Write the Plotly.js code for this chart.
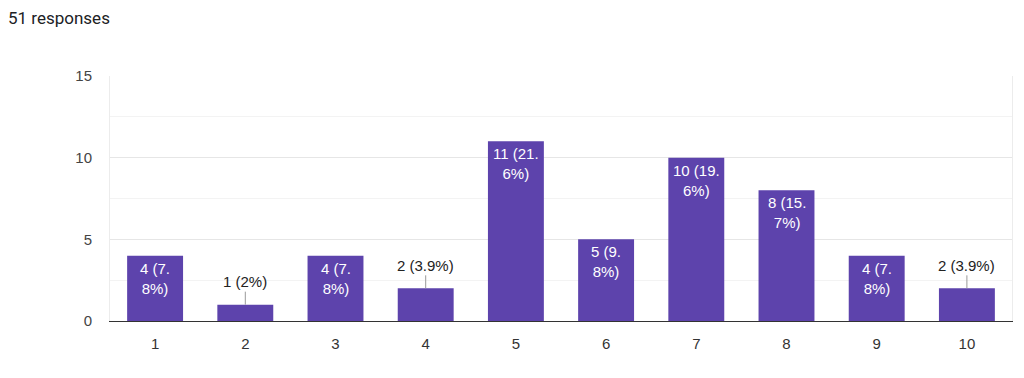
<!DOCTYPE html>
<html>
<head>
<meta charset="utf-8">
<script src="https://cdn.plot.ly/plotly-3.0.1.min.js"></script>
<style>html,body{margin:0;padding:0;background:#fff;}#chart{width:1024px;height:378px;}</style>
</head>
<body>
<div id="chart"></div>
<script>
const categories = ["1","2","3","4","5","6","7","8","9","10"];
const counts = [4, 1, 4, 2, 11, 5, 10, 8, 4, 2];
const percents = ["7.8", "2", "7.8", "3.9", "21.6", "9.8", "19.6", "15.7", "7.8", "3.9"];
const yTicks = [0, 5, 10, 15];
const totalResponses = 51;

const barColor = "#5d43ac";
const annotations = [];
counts.forEach((v, i) => {
  const p = percents[i];
  if (v >= 4) {
    const parts = p.split(".");
    const txt = parts.length > 1 ? `${v} (${parts[0]}.<br>${parts[1]}%)` : `${v} (${p}%)`;
    annotations.push({
      x: i, y: v, xref: "x", yref: "y",
      text: txt, showarrow: false, yanchor: "top", yshift: -2,
      font: {family: "Liberation Sans, Arial, sans-serif", size: 15, color: "#ffffff"}
    });
  } else {
    annotations.push({
      x: i, y: v, xref: "x", yref: "y",
      text: `${v} (${p}%)`, showarrow: true, arrowhead: 0, arrowwidth: 1,
      arrowcolor: "#999999", ax: 0, ay: -23, standoff: 0,
      font: {family: "Liberation Sans, Arial, sans-serif", size: 15, color: "#222222"}
    });
  }
});

const trace = {
  type: "bar", x: categories, y: counts,
  marker: {color: barColor}, hoverinfo: "none"
};

const layout = {
  width: 1024, height: 378,
  margin: {l: 110, r: 12, t: 76, b: 57},
  paper_bgcolor: "#fff", plot_bgcolor: "#fff",
  bargap: 0.38,
  showlegend: false,
  title: {
    text: `${totalResponses} responses`,
    x: 8/1024, xref: "container", xanchor: "left",
    y: 1 - 18/378, yref: "container", yanchor: "middle",
    font: {family: "Roboto, sans-serif", size: 17, color: "#202124"}
  },
  font: {family: "Liberation Sans, Arial, sans-serif", size: 15, color: "#444"},
  xaxis: {
    type: "category", showgrid: false, zeroline: false,
    showline: true, linecolor: "#333", linewidth: 1,
    ticks: "", ticklabelstandoff: 9,
    tickfont: {size: 15, color: "#333"}
  },
  yaxis: {
    range: [0, 15], tickvals: yTicks, ticktext: yTicks.map(String),
    showgrid: true, gridcolor: "#e6e6e6", gridwidth: 1,
    zeroline: false, showline: true, linecolor: "#ececec", mirror: true,
    ticks: "", ticklabelstandoff: 14,
    tickfont: {size: 15, color: "#444"},
    minor: {dtick: 2.5, tick0: 0, showgrid: true, gridcolor: "#f3f3f3", ticks: ""}
  },
  annotations: annotations
};
Plotly.newPlot("chart", [trace], layout, {staticPlot: true, displayModeBar: false});
</script>
</body>
</html>
